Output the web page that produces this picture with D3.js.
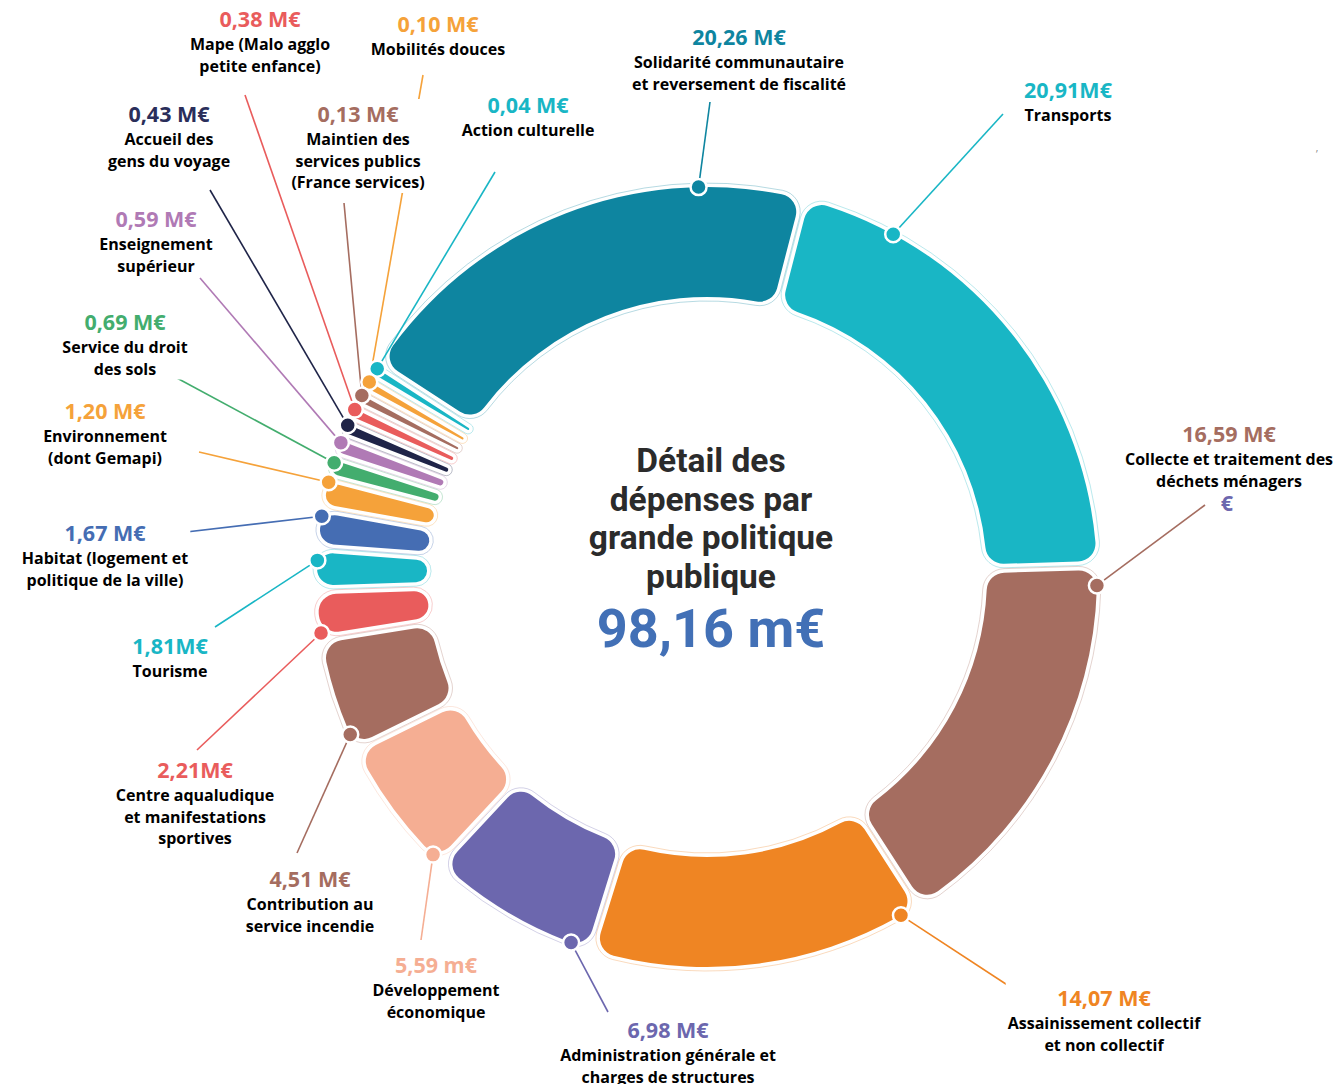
<!DOCTYPE html>
<html>
<head>
<meta charset="utf-8">
<script src="https://cdn.jsdelivr.net/npm/d3@7"></script>
<style>
  html, body { margin: 0; padding: 0; background: #fff; }
  svg { display: block; }
  .name { font-family: "Open Sans", sans-serif; font-weight: 700; font-size: 16px; fill: #000; }
  .val { font-family: "Open Sans", sans-serif; font-weight: 700; font-size: 21.5px; }
  .title { font-family: Roboto, sans-serif; font-weight: 700; font-size: 33.5px; fill: #2b2b2b; }
  .total { font-family: Roboto, sans-serif; font-weight: 700; font-size: 54px; fill: #4270b6; }
</style>
</head>
<body>
<svg id="chart" width="1339" height="1084"></svg>
<script>
// clockwise from the top, starting with Transports
const categories = [
  ['Transports'],
  ['Collecte et traitement des', 'déchets ménagers'],
  ['Assainissement collectif', 'et non collectif'],
  ['Administration générale et', 'charges de structures'],
  ['Développement', 'économique'],
  ['Contribution au', 'service incendie'],
  ['Centre aqualudique', 'et manifestations', 'sportives'],
  ['Tourisme'],
  ['Habitat (logement et', 'politique de la ville)'],
  ['Environnement', '(dont Gemapi)'],
  ['Service du droit', 'des sols'],
  ['Enseignement', 'supérieur'],
  ['Accueil des', 'gens du voyage'],
  ['Mape (Malo agglo', 'petite enfance)'],
  ['Maintien des', 'services publics', '(France services)'],
  ['Mobilités douces'],
  ['Action culturelle'],
  ['Solidarité communautaire', 'et reversement de fiscalité']
]
const values = [20.91, 16.59, 14.07, 6.98, 5.59, 4.51, 2.21, 1.81, 1.67, 1.20, 0.69, 0.59, 0.43, 0.38, 0.13, 0.10, 0.04, 20.26]
const valueLabels = ['20,91M€', '16,59 M€', '14,07 M€', '6,98 M€', '5,59 m€', '4,51 M€', '2,21M€', '1,81M€',
  '1,67 M€', '1,20 M€', '0,69 M€', '0,59 M€', '0,43 M€', '0,38 M€', '0,13 M€', '0,10 M€', '0,04 M€', '20,26 M€']
const totalLabel = '98,16 m€'
const titleLines = ['Détail des', 'dépenses par', 'grande politique', 'publique']

// styles
const colors = ['#19b6c5', '#a56d60', '#ef8523', '#6c67ae', '#f5ae93', '#a56d60', '#e95c5c', '#19b6c5',
  '#456db3', '#f5a23a', '#43ad6e', '#b07ab5', '#1f2448', '#e95c5c', '#a56d60', '#f5a23a', '#19b6c5', '#0e85a0']
const valueColors = colors.map((c, i) => i === 12 ? '#2a2e5a' : c)

// layout: label centre x / value baseline, leader end, dot position inside the slice
const labelPos = [[1068, 98], [1229, 442], [1104, 1006], [668, 1038], [436, 973], [310, 887], [195, 778],
  [170, 654], [105, 541], [105, 419], [125, 330], [156, 227], [169, 122], [260, 27], [358, 122], [438, 32],
  [528, 113], [739, 45]]
const lineEnd = [[1003, 114], [1205, 505], [1015, 990], [608, 1012], [421, 940], [297, 853], [197, 750],
  [215, 627], [169, 534], [199, 452], [175, 377], [200, 278], [210, 190], [245, 95], [344, 203], [423, 75],
  [495, 172], [710, 102]]
const dotFrac = [0.19, 0.05, 0.06, 0.12, 0.08, 0.14, 0.12, 0.7, 0.8, 0.85, 0.7, 0.7, 0.7, 0.7, 0.7, 0.7, 0.7, 0.78]

const cx = 707, cy = 577
const rIn = 280, rOut = 390
const padR = 340
const padA = 1.5 * Math.PI / 180
const start = 14.5 * Math.PI / 180

const svg = d3.select('#chart')
const g = svg.append('g').attr('transform', `translate(${cx},${cy})`)

// small items get a compressed weight so they stay readable
const weight = v => v < 3 ? Math.max(v * 0.75, 0.22) : v

const pie = d3.pie()
  .sort(null)
  .value(d => weight(d))
  .startAngle(start)
  .endAngle(start + 2 * Math.PI)
  .padAngle(padA)

const arcs = pie(values)

const arc = d3.arc()
  .innerRadius(rIn)
  .outerRadius(rOut)
  .padRadius(padR)
  .cornerRadius(18)

const halo = d3.arc()
  .innerRadius(rIn - 4)
  .outerRadius(rOut + 4)
  .padRadius(padR)
  .cornerRadius(22)

// white halo with a faint coloured edge
g.selectAll('path.halo')
  .data(arcs)
  .enter()
  .append('path')
  .attr('class', 'halo')
  .attr('d', d => halo(Object.assign({}, d, { padAngle: Math.max(padA - 8 / padR, 0.001) })))
  .attr('fill', '#fff')
  .attr('stroke', (d, i) => colors[i])
  .attr('stroke-opacity', 0.3)
  .attr('stroke-width', 1)

g.selectAll('path.slice')
  .data(arcs)
  .enter()
  .append('path')
  .attr('class', 'slice')
  .attr('d', arc)
  .attr('fill', (d, i) => colors[i])

const dotPos = arcs.map((d, i) => {
  const a = d.startAngle + (d.endAngle - d.startAngle) * dotFrac[i]
  return [cx + rOut * Math.sin(a), cy - rOut * Math.cos(a)]
})

// leader lines
svg.selectAll('line.lead')
  .data(arcs)
  .enter()
  .append('line')
  .attr('class', 'lead')
  .attr('x1', (d, i) => dotPos[i][0])
  .attr('y1', (d, i) => dotPos[i][1])
  .attr('x2', (d, i) => lineEnd[i][0])
  .attr('y2', (d, i) => lineEnd[i][1])
  .attr('stroke', (d, i) => colors[i])
  .attr('stroke-width', 1.6)

// dots, drawn from the last slice so the lower ones sit on top
svg.selectAll('circle.dot')
  .data(arcs.slice().reverse())
  .enter()
  .append('circle')
  .attr('class', 'dot')
  .attr('cx', d => dotPos[d.index][0])
  .attr('cy', d => dotPos[d.index][1])
  .attr('r', 8)
  .attr('fill', d => colors[d.index])
  .attr('stroke', '#fff')
  .attr('stroke-width', 2.5)

// labels
const lab = svg.selectAll('g.lab')
  .data(arcs)
  .enter()
  .append('g')
  .attr('class', 'lab')
  .attr('transform', (d, i) => `translate(${labelPos[i][0]},${labelPos[i][1]})`)

lab.append('rect').attr('fill', '#fff')

lab.append('text')
  .attr('class', 'val')
  .attr('text-anchor', 'middle')
  .attr('fill', (d, i) => valueColors[i])
  .text((d, i) => valueLabels[i])

lab.each(function (d, i) {
  const sel = d3.select(this)
  categories[i].forEach((line, k) => {
    sel.append('text')
      .attr('class', 'name')
      .attr('text-anchor', 'middle')
      .attr('y', 23 + 21.5 * k)
      .text(line)
  })
  const bb = this.getBBox()
  sel.select('rect')
    .attr('x', bb.x - 2).attr('y', bb.y)
    .attr('width', bb.width + 4).attr('height', bb.height)
})

// stray euro sign under the waste label in the original
svg.append('text')
  .attr('class', 'val')
  .attr('x', 1227).attr('y', 511)
  .attr('text-anchor', 'middle')
  .attr('font-size', 16)
  .attr('fill', '#6c67ae')
  .text('€')

svg.append('text')
  .attr('x', 1316).attr('y', 158)
  .attr('font-family', 'Open Sans, sans-serif')
  .attr('font-size', 10)
  .attr('fill', '#888')
  .text('’')

// centre title
const t = svg.append('g').attr('transform', `translate(${cx + 4},0)`)
titleLines.forEach((s, k) => {
  t.append('text')
    .attr('class', 'title')
    .attr('text-anchor', 'middle')
    .attr('y', 472 + 38.7 * k)
    .text(s)
})
t.append('text')
  .attr('class', 'total')
  .attr('text-anchor', 'middle')
  .attr('y', 647)
  .text(totalLabel)
</script>
</body>
</html>
